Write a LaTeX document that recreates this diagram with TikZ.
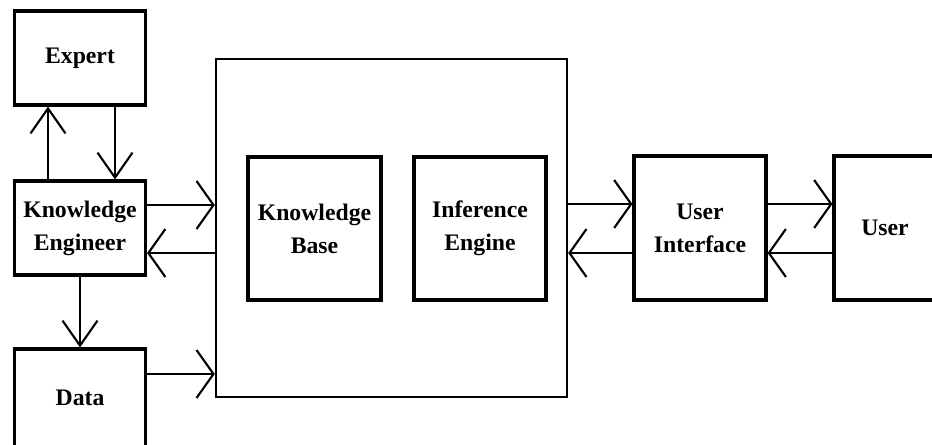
\documentclass[tikz,border=0pt]{standalone}
\usepackage{fontspec}
\setmainfont{Liberation Serif}
\usetikzlibrary{arrows.meta,calc}

\begin{document}
\begin{tikzpicture}[x=0.02cm,y=-0.02cm,
  blk/.style={draw,line width=1.8pt,inner sep=0pt,align=center,
    font=\fontsize{13.5}{18.7}\selectfont\bfseries},
  harr/.style={line width=1.2pt,-{Straight Barb[length=0.34cm,width=0.96cm]}},
  varr/.style={line width=1.2pt,-{Straight Barb[length=0.5cm,width=0.7cm]}}]
  \useasboundingbox (0,0) rectangle (932,444);
  % left column
  \node[blk,minimum width=2.62cm,minimum height=1.88cm] (expert) at (80,58)  {Expert};
  \node[blk,minimum width=2.62cm,minimum height=1.88cm] (ke)     at (80,228) {Knowledge\\Engineer};
  \node[blk,minimum width=2.62cm,minimum height=1.96cm] (data)   at (80,398) {Data};
  % system
  \node[draw,line width=1.4pt,minimum width=7.02cm,minimum height=6.76cm] (big) at (391.5,228) {};
  \node[blk,minimum width=2.66cm,minimum height=2.86cm] (kb) at (314.5,228.5) {Knowledge\\Base};
  \node[blk,minimum width=2.64cm,minimum height=2.86cm] (ie) at (480,228.5)   {Inference\\Engine};
  % right side
  \node[blk,minimum width=2.64cm,minimum height=2.88cm] (ui)   at (700,228) {User\\Interface};
  \node[blk,minimum width=2.04cm,minimum height=2.88cm] (user) at (885,228) {User};
  % connectors
  \draw[varr] ($(expert.south)+(35,0)$) -- ($(ke.north)+(35,0)$);
  \draw[varr] ($(ke.north)+(-32,0)$) -- ($(expert.south)+(-32,0)$);
  \draw[varr] (ke) -- (data);
  \draw[harr] ($(ke.east)+(0,-23)$) coordinate (k1) -- (k1 -| big.west);
  \draw[harr] ($(big.west)+(0,25)$) coordinate (k2) -- (k2 -| ke.east);
  \draw[harr] ($(data.east)+(0,-24)$) coordinate (d1) -- (d1 -| big.west);
  \draw[harr] ($(big.east)+(0,-24)$) coordinate (s1) -- (s1 -| ui.west);
  \draw[harr] ($(ui.west)+(0,25)$) coordinate (s2) -- (s2 -| big.east);
  \draw[harr] ($(ui.east)+(0,-24)$) coordinate (u1) -- (u1 -| user.west);
  \draw[harr] ($(user.west)+(0,25)$) coordinate (u2) -- (u2 -| ui.east);
\end{tikzpicture}
\end{document}
